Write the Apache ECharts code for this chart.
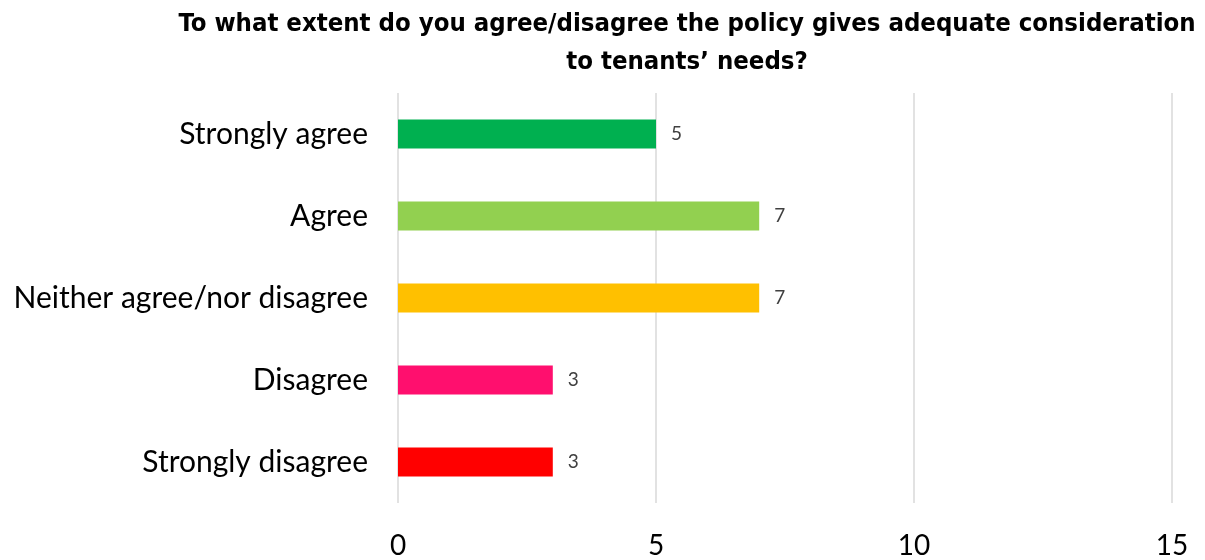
<!DOCTYPE html>
<html>
<head>
<meta charset="utf-8">
<script src="https://cdn.jsdelivr.net/npm/echarts@6/dist/echarts.min.js"></script>
<style>
  html, body { margin: 0; padding: 0; background: #fff; }
  #chart { width: 1205px; height: 560px; }
</style>
</head>
<body>
<div id="chart"></div>
<script>
  var categories = ['Strongly agree', 'Agree', 'Neither agree/nor disagree', 'Disagree', 'Strongly disagree'];
  var counts = [5, 7, 7, 3, 3];
  var barColors = ['#00b050', '#92d050', '#ffc000', '#ff0f6e', '#ff0000'];
  var titleText = 'To what extent do you agree/disagree the policy gives adequate consideration\nto tenants\u2019 needs?';

  var myChart = echarts.init(document.getElementById('chart'));

  var seriesData = counts.map(function (v, i) {
    return { value: v, itemStyle: { color: barColors[i] } };
  });

  var option = {
    animation: false,
    title: {
      text: titleText,
      left: 682,
      top: 0,
      textAlign: 'center',
      textStyle: {
        color: '#000',
        fontFamily: 'DejaVu Sans Condensed, sans-serif',
        fontWeight: 'bold',
        fontSize: 25.5,
        lineHeight: 38
      }
    },
    grid: {
      left: 398,
      right: 33,
      top: 93,
      bottom: 55,
      containLabel: false
    },
    xAxis: {
      type: 'value',
      min: 0,
      max: 15,
      interval: 5,
      axisLine: { show: false },
      axisTick: { show: false },
      axisLabel: {
        margin: 29,
        color: '#000',
        fontFamily: 'Lato, sans-serif',
        fontSize: 28
      },
      splitLine: {
        show: true,
        lineStyle: { color: '#d9d9d9', width: 1.5 }
      }
    },
    yAxis: {
      type: 'category',
      inverse: true,
      data: categories,
      axisLine: { show: false },
      axisTick: { show: false },
      axisLabel: {
        margin: 30,
        color: '#000',
        fontFamily: 'Lato, sans-serif',
        fontSize: 30
      }
    },
    series: [{
      type: 'bar',
      data: seriesData,
      barWidth: 29,
      label: {
        show: true,
        position: 'right',
        distance: 15,
        color: '#404040',
        fontFamily: 'Lato, sans-serif',
        fontSize: 19
      }
    }]
  };

  myChart.setOption(option);
</script>
</body>
</html>
